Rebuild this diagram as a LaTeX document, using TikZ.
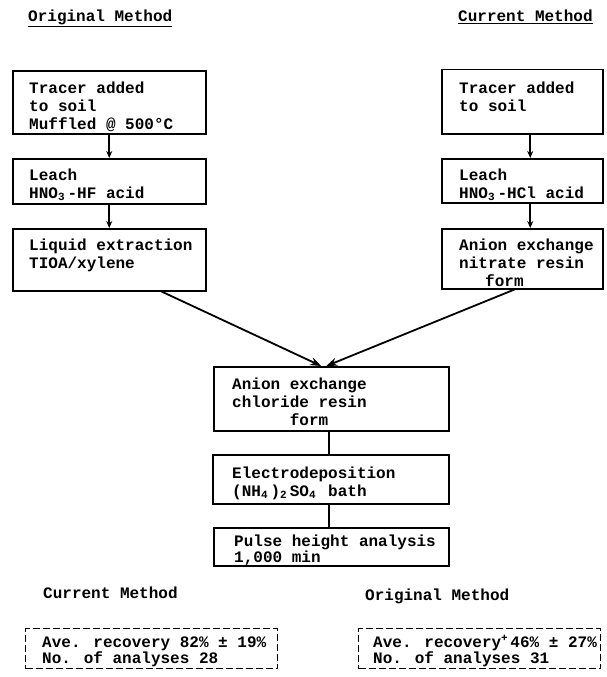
\documentclass[tikz,border=0pt]{standalone}
\usepackage{fontspec}
\setmainfont{Liberation Mono}
\usetikzlibrary{arrows.meta,calc}
\newcommand\lowsub[1]{\makebox[0.6em][l]{\raisebox{-0.3ex}{\fontsize{11}{11}\selectfont #1}}}
\newcommand\hisup[1]{\raisebox{0.7ex}{\fontsize{11}{11}\selectfont #1}}
\newcommand\topstrut{\rule{0pt}{13pt}}
\begin{document}
\begin{tikzpicture}[x=1pt,y=-1pt,
  every node/.style={font=\fontsize{16}{18}\selectfont\bfseries},
  boxnode/.style={draw,line width=1.5pt,anchor=north west,inner sep=0pt},
  dashbox/.style={draw,line width=1.4pt,dash pattern=on 7pt off 3pt,anchor=north west,inner sep=0pt},
  txt/.style={anchor=north west,inner sep=0pt,align=left},
  flow/.style={line width=1.6pt,-{Stealth[length=7pt,width=6pt]}},
  bigflow/.style={line width=1.8pt,-{Stealth[length=11pt,width=8pt]}},
  plain/.style={line width=1.6pt}]
\useasboundingbox (0,0) rectangle (606,677);
% titles (top = baseline - 13)
\node[txt] (t1) at (28,8) {\topstrut\underline{Original Method}};
\node[txt] (t2) at (458,8) {\topstrut\underline{Current Method}};
% left column
\node[boxnode,minimum width=193pt,minimum height=63pt] (L1) at (12,70) {};
\node[boxnode,minimum width=193pt,minimum height=45pt] (L2) at (12,158) {};
\node[boxnode,minimum width=193pt,minimum height=62pt] (L3) at (12,228) {};
\node[txt] (L1t) at (29,80) {\topstrut Tracer added\\to soil\\Muffled @ 500°C};
\node[txt] (L2t) at (29,167) {\topstrut Leach\\HNO\lowsub{3}-HF acid};
\node[txt] (L3t) at (29,237) {\topstrut Liquid extraction\\TIOA/xylene};
% right column
\node[boxnode,minimum width=161pt,minimum height=64pt] (R1) at (441,69) {};
\node[boxnode,minimum width=161pt,minimum height=44pt] (R2) at (441,158) {};
\node[boxnode,minimum width=161pt,minimum height=60pt] (R3) at (441,228) {};
\node[txt] (R1t) at (459,80) {\topstrut Tracer added\\to soil};
\node[txt] (R2t) at (459,167) {\topstrut Leach\\HNO\lowsub{3}-HCl acid};
\node[txt] (R3t) at (459,237) {\topstrut Anion exchange\\nitrate resin\\\hspace*{26pt}form};
% center column
\node[boxnode,minimum width=235pt,minimum height=64pt] (C1) at (213,366) {};
\node[boxnode,minimum width=236pt,minimum height=49pt] (C2) at (212,454) {};
\node[boxnode,minimum width=235pt,minimum height=38pt] (C3) at (213,527) {};
\node[txt] (C1t) at (232,376) {\topstrut Anion exchange\\chloride resin\\\hspace*{57.6pt}form};
\node[txt] (C2t) at (232,465) {\topstrut Electrodeposition\\(NH\lowsub{4})\lowsub{2}SO\lowsub{4} bath};
\node[txt,font=\fontsize{16}{14}\selectfont\bfseries] (C3t) at (234,533) {\topstrut Pulse height analysis\\1,000 min};
% bottom
\node[txt] (b1) at (43,585) {\topstrut Current Method};
\node[txt] (b2) at (365,587) {\topstrut Original Method};
\node[dashbox,minimum width=252pt,minimum height=40pt] (D1) at (25,628) {};
\node[dashbox,minimum width=242pt,minimum height=40pt] (D2) at (358,628) {};
\node[txt,font=\fontsize{16}{16}\selectfont\bfseries] (D1t) at (42,634) {\topstrut Ave. recovery 82\% ± 19\%\\No. of analyses 28};
\node[txt,font=\fontsize{16}{16}\selectfont\bfseries] (D2t) at (373,634) {\topstrut Ave. recovery\hisup{+}\,46\% ± 27\%\\No. of analyses 31};
% connectors
\draw[flow] (L1.south) -- (L2.north);
\draw[flow] (L2.south) -- (L3.north);
\draw[flow] ([xshift=8pt]R1.south) -- ([xshift=8pt]R2.north);
\draw[flow] ([xshift=8pt]R2.south) -- ([xshift=8pt]R3.north);
\draw[bigflow] ([xshift=-45pt]L3.south east) -- ([xshift=-10pt]C1.north);
\draw[bigflow] ([xshift=-89pt]R3.south east) -- ([xshift=-5pt]C1.north);
\draw[plain] ([xshift=-2pt]C1.south) -- ([xshift=-2pt]C1.south |- C2.north);
\draw[plain] ([xshift=-2pt]C2.south) -- ([xshift=-2pt]C2.south |- C3.north);
\end{tikzpicture}
\end{document}
